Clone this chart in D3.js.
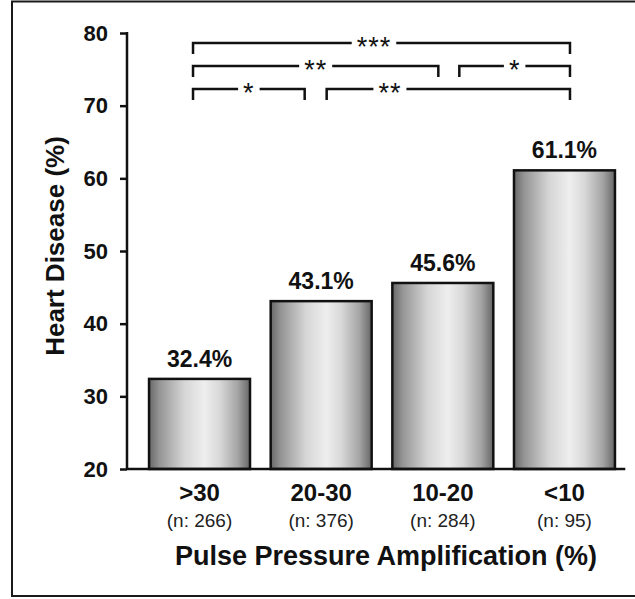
<!DOCTYPE html>
<html>
<head>
<meta charset="utf-8">
<script src="https://cdn.jsdelivr.net/npm/d3@7"></script>
<style>
  html, body { margin: 0; padding: 0; background: #fff; }
  svg { display: block; font-family: "Liberation Sans", Arial, Helvetica, sans-serif; }
</style>
</head>
<body>
<svg id="chart" width="635" height="599"></svg>
<script>
// Heart disease prevalence by pulse pressure amplification group
const categories = [">30", "20-30", "10-20", "<10"];
const sampleSizes = ["(n: 266)", "(n: 376)", "(n: 284)", "(n: 95)"];
const heartDisease = [32.4, 43.1, 45.6, 61.1];
const valueLabels = ["32.4%", "43.1%", "45.6%", "61.1%"];
const yTicks = [20, 30, 40, 50, 60, 70, 80];

// Pairwise comparisons: from-group index, to-group index, row (0 = top), significance
const compFrom = [0, 0, 2, 0, 1];
const compTo = [3, 2, 3, 1, 3];
const compRow = [0, 1, 1, 2, 2];
const compStars = ["***", "**", "*", "*", "**"];

const svg = d3.select("#chart");
const ink = "#111";

// outer frame
svg.append("rect")
  .attr("x", 12).attr("y", 1.5)
  .attr("width", 640).attr("height", 594.5)
  .attr("fill", "none").attr("stroke", "#1a1a1a").attr("stroke-width", 2);

const y = d3.scaleLinear().domain([20, 80]).range([469, 33]);
const x = d3.scaleBand().domain(categories)
  .range([138.7, 625.3]).paddingInner(0.17).paddingOuter(0.085);
const axisX = 127;

// cylinder-like shading for the bars
const defs = svg.append("defs");
const grad = defs.append("linearGradient").attr("id", "barShade")
  .attr("x1", "0%").attr("x2", "100%").attr("y1", "0%").attr("y2", "0%");
[[0, "#686868"], [0.1, "#949494"], [0.35, "#d6d6d6"], [0.55, "#eeeeee"],
 [0.7, "#d8d8d8"], [0.88, "#a4a4a4"], [1, "#666666"]]
  .forEach(([o, c]) => grad.append("stop").attr("offset", o).attr("stop-color", c));

// bars
svg.append("g").selectAll("rect")
  .data(heartDisease)
  .join("rect")
  .attr("x", (d, i) => x(categories[i]))
  .attr("y", d => y(d))
  .attr("width", x.bandwidth())
  .attr("height", d => y(20) - y(d))
  .attr("fill", "url(#barShade)")
  .attr("stroke", ink).attr("stroke-width", 2.5);

// value labels
svg.append("g").selectAll("text")
  .data(heartDisease)
  .join("text")
  .attr("x", (d, i) => x(categories[i]) + x.bandwidth() / 2)
  .attr("y", d => y(d) - 12)
  .attr("text-anchor", "middle")
  .attr("font-size", 23).attr("font-weight", "bold").attr("fill", ink)
  .text((d, i) => valueLabels[i]);

// y axis
const yAxis = svg.append("g").attr("transform", `translate(${axisX},0)`)
  .call(d3.axisLeft(y).tickValues(yTicks).tickSize(7).tickPadding(12).tickFormat(d3.format("d")));
yAxis.select(".domain").remove();
yAxis.selectAll(".tick line").attr("stroke", ink).attr("stroke-width", 2.5);
yAxis.selectAll(".tick text")
  .attr("font-family", "Liberation Sans, Arial, sans-serif")
  .attr("font-size", 22).attr("font-weight", "bold").attr("fill", ink);

// axis lines (vertical + baseline)
svg.append("line").attr("x1", axisX).attr("x2", axisX)
  .attr("y1", y(80) - 1).attr("y2", y(20))
  .attr("stroke", ink).attr("stroke-width", 2.5);
svg.append("line").attr("x1", axisX).attr("x2", x.range()[1])
  .attr("y1", y(20)).attr("y2", y(20))
  .attr("stroke", ink).attr("stroke-width", 2.5);

// category labels and group sizes
const cx = i => x(categories[i]) + x.bandwidth() / 2;
svg.append("g").selectAll("text")
  .data(categories)
  .join("text")
  .attr("x", (d, i) => cx(i))
  .attr("y", 501)
  .attr("text-anchor", "middle")
  .attr("font-size", 24).attr("font-weight", "bold").attr("fill", ink)
  .text(d => d);
svg.append("g").selectAll("text")
  .data(sampleSizes)
  .join("text")
  .attr("x", (d, i) => cx(i))
  .attr("y", 527)
  .attr("text-anchor", "middle")
  .attr("font-size", 19).attr("fill", "#222")
  .text(d => d);

// axis titles
svg.append("text")
  .attr("x", 386).attr("y", 565)
  .attr("text-anchor", "middle")
  .attr("font-size", 27).attr("font-weight", "bold").attr("fill", ink)
  .text("Pulse Pressure Amplification (%)");
svg.append("text")
  .attr("transform", `translate(64,${(y(20) + y(80)) / 2 - 5}) rotate(-90)`)
  .attr("text-anchor", "middle")
  .attr("font-size", 26).attr("font-weight", "bold").attr("fill", ink)
  .text("Heart Disease (%)");

// significance brackets
const rowY = r => y(80) + 10 + r * 23;
const legLen = 11;
// end trims relative to group centres, and label position along each bracket
const endTrim = [[-6.5, 5.5], [-6.5, -4.5], [16.5, 5.5], [-6.5, -16.5], [5.5, 5.5]];
const labelAt = [0.48, 0.5, 0.5, 0.5, 0.26];

const br = svg.append("g");
compStars.forEach((s, k) => {
  const x0 = cx(compFrom[k]) + endTrim[k][0];
  const x1 = cx(compTo[k]) + endTrim[k][1];
  const ly = rowY(compRow[k]);
  const lx = x0 + (x1 - x0) * labelAt[k];
  const t = br.append("text")
    .attr("x", lx).attr("y", ly + 13)
    .attr("text-anchor", "middle")
    .attr("font-size", 27).attr("letter-spacing", 1).attr("fill", ink)
    .text(s);
  const half = t.node().getComputedTextLength() / 2 + 5;
  br.append("path")
    .attr("d", `M${x0},${ly + legLen}V${ly}H${lx - half}M${lx + half},${ly}H${x1}V${ly + legLen}`)
    .attr("fill", "none").attr("stroke", ink).attr("stroke-width", 2.5);
});
</script>
</body>
</html>
